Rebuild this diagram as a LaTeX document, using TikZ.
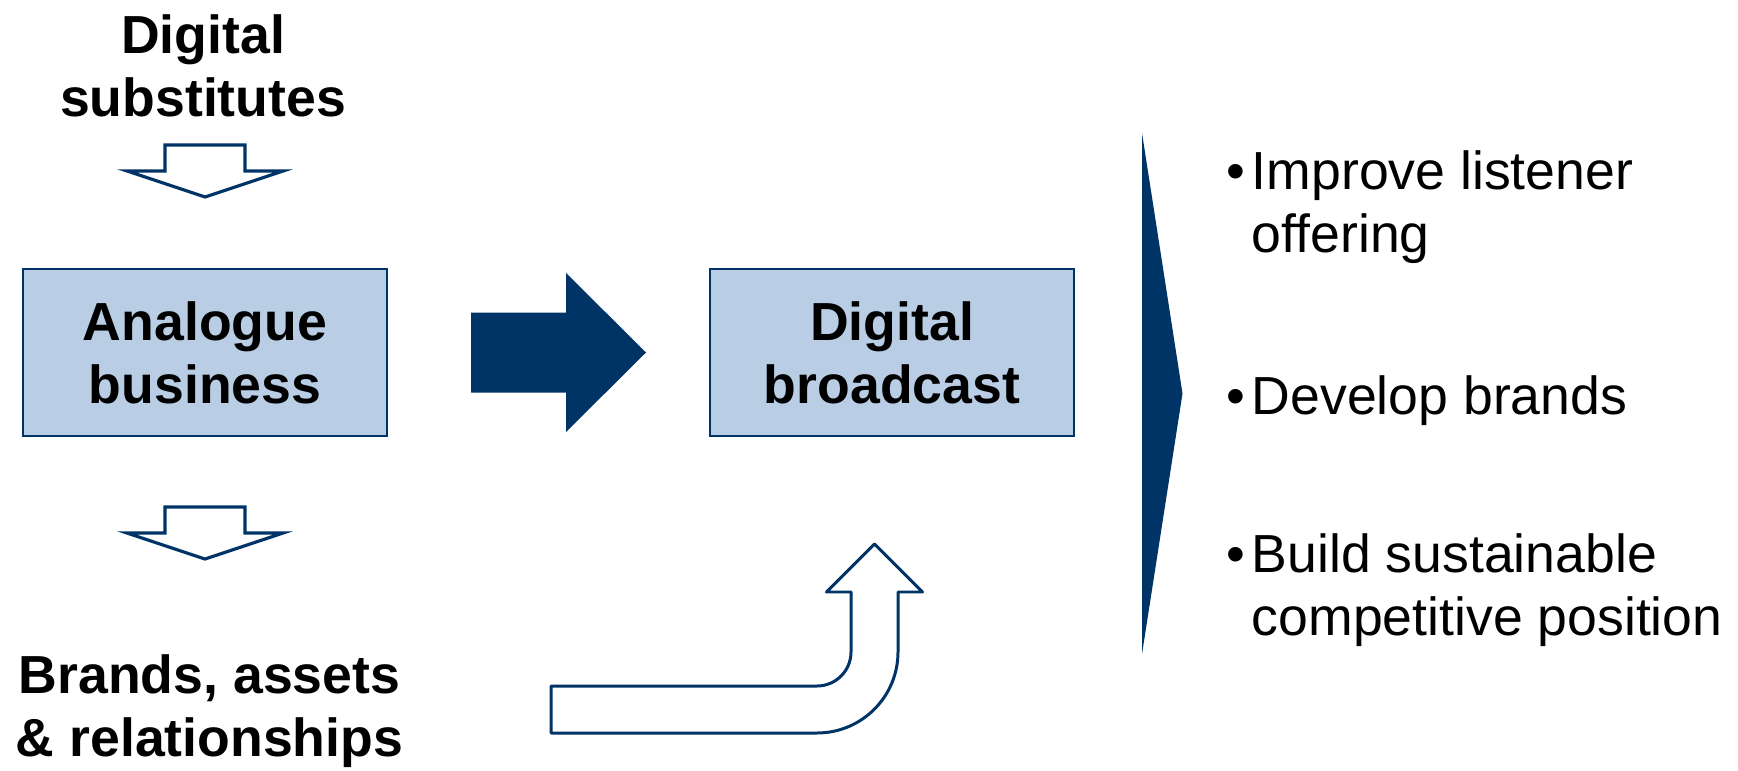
\documentclass[tikz,border=0pt]{standalone}
\usepackage{fontspec}
\setmainfont{Liberation Sans}
\usepackage{tikz}
\usetikzlibrary{positioning}
\definecolor{navy}{RGB}{0,51,102}
\definecolor{paleblue}{RGB}{185,205,229}
\newcommand{\bigtext}{\fontsize{30.5}{36}\selectfont}
\tikzstyle{block} = [rectangle, draw=navy, line width=0.8pt, fill=paleblue, minimum width=7.28cm,
                     minimum height=3.34cm, align=center, font=\bigtext\bfseries]
\tikzstyle{heading} = [align=center, inner sep=0, font=\bigtext\bfseries]
\tikzstyle{listitem} = [anchor=north west, align=left, inner sep=0, font=\bigtext]
\tikzstyle{filledarrow} = [fill=navy, draw=none]
\tikzstyle{hollowarrow} = [draw=navy, line width=1.8pt, fill=white]

\begin{document}
\begin{tikzpicture}
				\useasboundingbox (0, 0) rectangle (34.76, -15.42);

				\node (Substitutes) [heading] at (4.06, -1.31) {Digital\\substitutes};
				\node (Analogue) [block] at (4.1, -7.05) {Analogue\\business};
				\node (Digital) [block] at (17.84, -7.05) {Digital\\broadcast};
				\node (Assets) [heading] at (4.19, -14.23) {Brands, assets\\\& relationships};

				% pressure from above
				\draw [hollowarrow] (3.3, -2.9) -- (4.9, -2.9) -- (4.9, -3.42) -- (5.66, -3.42)
					-- (4.1, -3.94) -- (2.54, -3.42) -- (3.3, -3.42) -- cycle;

				% what is carried over
				\draw [hollowarrow] (3.3, -10.14) -- (4.9, -10.14) -- (4.9, -10.66) -- (5.66, -10.66)
					-- (4.1, -11.18) -- (2.54, -10.66) -- (3.3, -10.66) -- cycle;

				% the move
				\fill [filledarrow] (9.42, -6.25) -- (11.32, -6.25) -- (11.32, -5.46) -- (12.92, -7.05)
					-- (11.32, -8.64) -- (11.32, -7.85) -- (9.42, -7.85) -- cycle;

				% bent arrow up into the digital box
				\draw [hollowarrow, line width=1.7pt, line join=round] (11.02, -13.72) -- (16.34, -13.72)
					arc [start angle=-90, end angle=0, radius=0.68] -- (17.02, -11.84) -- (16.53, -11.84)
					-- (17.49, -10.88) -- (18.45, -11.84) -- (17.96, -11.84) -- (17.96, -13.04)
					arc [start angle=0, end angle=-90, radius=1.62] -- (11.02, -14.66) -- cycle;

				% chevron
				\coordinate (ChevTop) at (22.84, -2.66);
				\coordinate (ChevTip) at (23.65, -7.87);
				\coordinate (ChevBottom) at (22.84, -13.08);
				\fill [filledarrow] (ChevTop) -- (ChevTip) -- (ChevBottom) -- cycle;

				% results
				\node (Listener) [listitem] at (24.53, -3.0) {\makebox[0.5cm][l]{\textbullet}Improve listener\\\hspace*{0.5cm}offering};
				\node (Brands) [listitem] at (24.53, -7.5) {\makebox[0.5cm][l]{\textbullet}Develop brands};
				\node (Position) [listitem] at (24.53, -10.66) {\makebox[0.5cm][l]{\textbullet}Build sustainable\\\hspace*{0.5cm}competitive position};
\end{tikzpicture}
\end{document}
